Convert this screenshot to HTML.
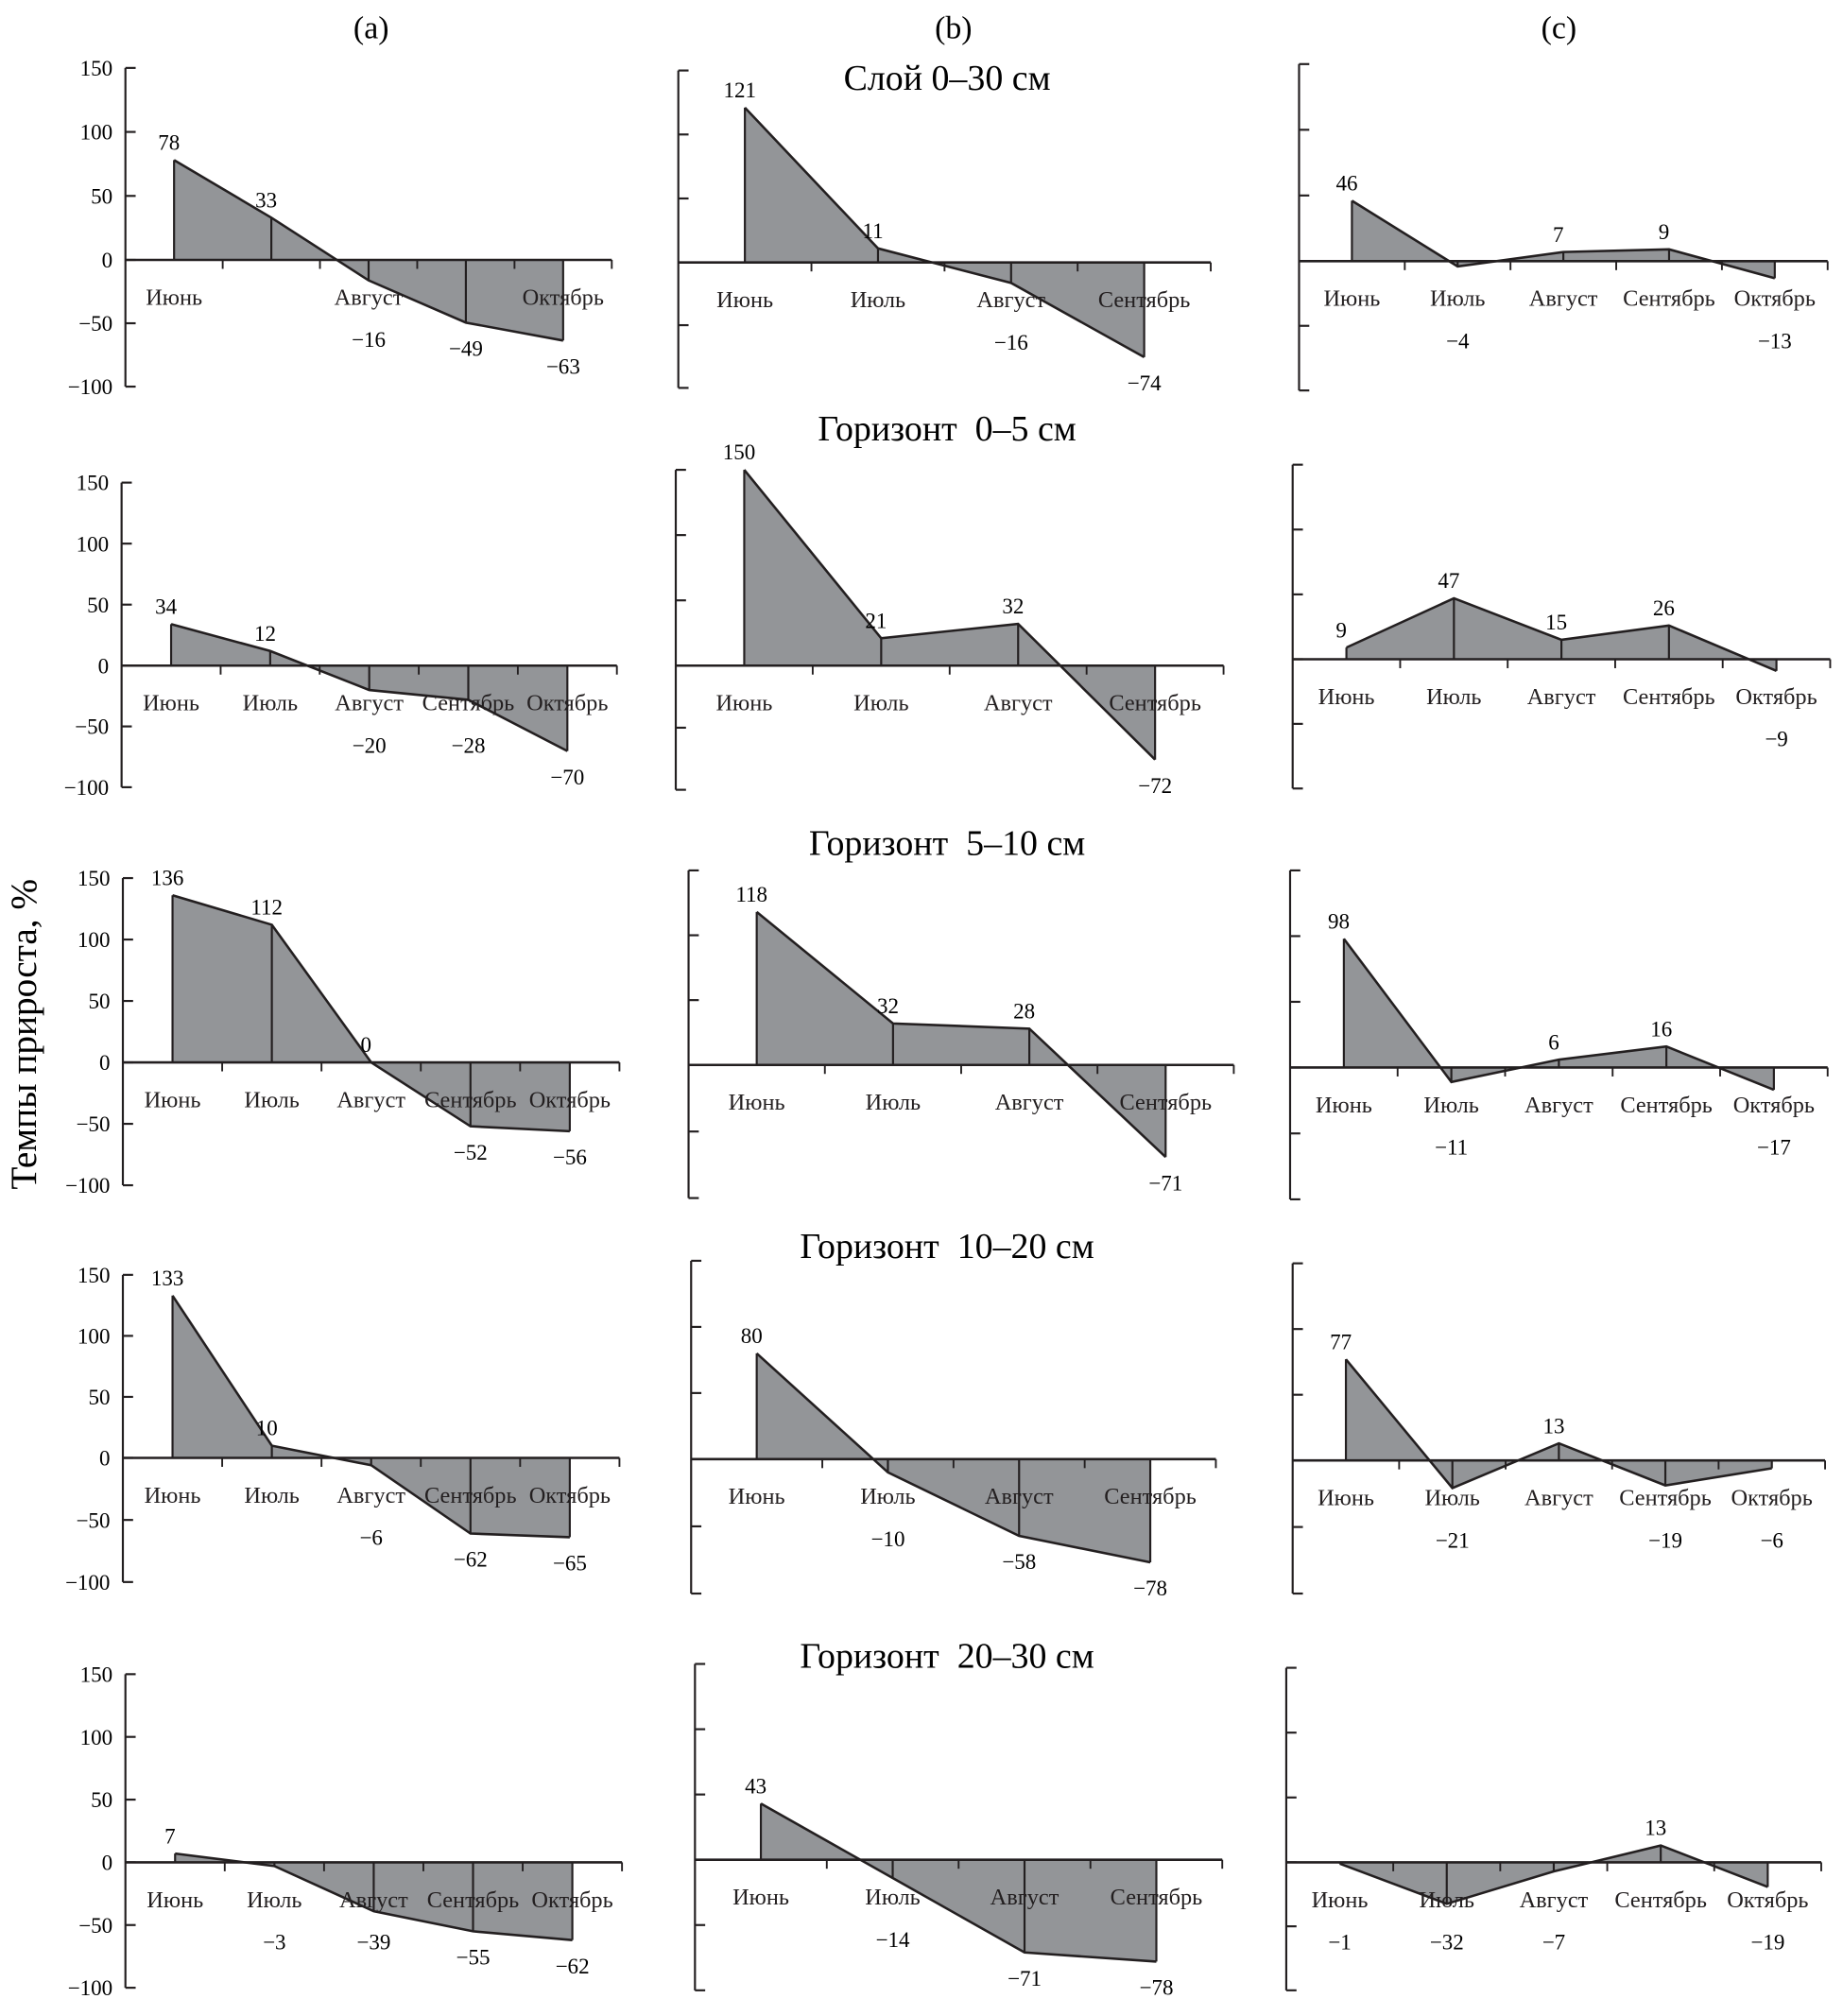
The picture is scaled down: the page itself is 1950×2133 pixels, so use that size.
<!DOCTYPE html>
<html><head><meta charset="utf-8"><style>
html,body{margin:0;padding:0;background:#fff;}
svg{display:block;font-family:"Liberation Serif","Noto Serif CJK SC",serif;}
</style></head><body>
<svg id="fig" width="1950" height="2133" viewBox="0 0 1440 1575" xmlns="http://www.w3.org/2000/svg">
<g font-size="25" text-anchor="middle">
<text x="290" y="30">(a)</text>
<text x="745" y="30">(b)</text>
<text x="1218" y="30">(c)</text>
</g>
<g font-size="28" text-anchor="middle">
<text x="740" y="70">Слой 0–30 см</text>
<text x="740" y="344" xml:space="preserve">Горизонт  0–5 см</text>
<text x="740" y="668" xml:space="preserve">Горизонт  5–10 см</text>
<text x="740" y="983" xml:space="preserve">Горизонт  10–20 см</text>
<text x="740" y="1303" xml:space="preserve">Горизонт  20–30 см</text>
</g>
<text font-size="29" text-anchor="middle" transform="translate(28,808) rotate(-90)">Темпы прироста, %</text>
<g id="panels"></g>
</svg>
<script>
const months5 = ["Июнь","Июль","Август","Сентябрь","Октябрь"];
const months4 = ["Июнь","Июль","Август","Сентябрь"];
const monthsA1 = ["Июнь","","Август","","Октябрь"];
const valsA1 = [78,33,-16,-49,-63];
const valsA2 = [34,12,-20,-28,-70];
const valsA3 = [136,112,0,-52,-56];
const valsA4 = [133,10,-6,-62,-65];
const valsA5 = [7,-3,-39,-55,-62];
const valsB1 = [121,11,-16,-74];
const valsB2 = [150,21,32,-72];
const valsB3 = [118,32,28,-71];
const valsB4 = [80,-10,-58,-78];
const valsB5 = [43,-14,-71,-78];
const valsC1 = [46,-4,7,9,-13];
const valsC2 = [9,47,15,26,-9];
const valsC3 = [98,-11,6,16,-17];
const valsC4 = [77,-21,13,-19,-6];
const valsC5 = [-1,-32,-7,13,-19];
const yTicks = [150,100,50,0,-50,-100];

const NS="http://www.w3.org/2000/svg";
const root=document.getElementById('panels');
function mk(tag,attrs,parent){const e=document.createElementNS(NS,tag);for(const k in attrs)e.setAttribute(k,attrs[k]);parent.appendChild(e);return e;}

const panels=[
 {id:'a1',x0:98,x1:478,zero:203,top:53,bot:302,labels:monthsA1,vals:valsA1,tl:true},
 {id:'a2',x0:95,x1:482,zero:520,top:377,bot:615,labels:months5,vals:valsA2,tl:true},
 {id:'a3',x0:96,x1:484,zero:830,top:686,bot:926,labels:months5,vals:valsA3,tl:true},
 {id:'a4',x0:96,x1:484,zero:1139,top:996,bot:1236,labels:months5,vals:valsA4,tl:true},
 {id:'a5',x0:98,x1:486,zero:1455,top:1308,bot:1553,labels:months5,vals:valsA5,tl:true},
 {id:'b1',x0:530,x1:946,zero:205,top:55,bot:303,labels:months4,vals:valsB1},
 {id:'b2',x0:528,x1:956,zero:520,top:367,bot:617,labels:months4,vals:valsB2},
 {id:'b3',x0:538,x1:964,zero:832,top:680,bot:936,labels:months4,vals:valsB3},
 {id:'b4',x0:540,x1:950,zero:1140,top:985,bot:1245,labels:months4,vals:valsB4},
 {id:'b5',x0:543,x1:955,zero:1453,top:1300,bot:1555,labels:months4,vals:valsB5},
 {id:'c1',x0:1015,x1:1428,zero:204,top:50,bot:305,labels:months5,vals:valsC1},
 {id:'c2',x0:1010,x1:1430,zero:515,top:363,bot:616,labels:months5,vals:valsC2},
 {id:'c3',x0:1008,x1:1428,zero:834,top:680,bot:937,labels:months5,vals:valsC3},
 {id:'c4',x0:1010,x1:1426,zero:1141,top:987,bot:1245,labels:months5,vals:valsC4},
 {id:'c5',x0:1005,x1:1423,zero:1455,top:1303,bot:1555,labels:months5,vals:valsC5},
];

panels.forEach(p=>{
 const g=mk('g',{},root);
 
 
 const n=p.labels.length, cw=(p.x1-p.x0)/n;
 const k=(p.zero-p.top)/150;
 const X=i=>p.x0+cw*(i+0.5);
 const Y=v=>p.zero-v*k;
 let d='M'+X(0)+','+p.zero;
 p.vals.forEach((v,i)=>{d+=' L'+X(i)+','+Y(v);});
 d+=' L'+X(n-1)+','+p.zero+' Z';
 const area=mk('path',{d:d,fill:'#939598',stroke:'none'},g);
 
 
 p.vals.forEach((v,i)=>{
  const l=mk('line',{x1:X(i),y1:p.zero,x2:X(i),y2:Y(v),stroke:'#231f20','stroke-width':1.6},g);
  
  
 });
 const pl=mk('polyline',{points:p.vals.map((v,i)=>X(i)+','+Y(v)).join(' '),fill:'none',stroke:'#231f20','stroke-width':1.9},g);
 
 
 const ya=mk('line',{x1:p.x0,y1:p.top,x2:p.x0,y2:p.bot,stroke:'#231f20','stroke-width':1.6},g);
 
 
 const xa=mk('line',{x1:p.x0,y1:p.zero,x2:p.x1,y2:p.zero,stroke:'#231f20','stroke-width':1.9},g);
 
 
 yTicks.forEach(t=>{
  const ty=p.zero-t*(t>=0?k:(p.bot-p.zero)/100);
  const tk=mk('line',{x1:p.x0,y1:ty,x2:p.x0+8,y2:ty,stroke:'#231f20','stroke-width':1.6},g);
  
  
  if(p.tl){
   const tt=mk('text',{x:p.x0-10,y:ty+6,'font-size':17,'text-anchor':'end'},g);
   tt.textContent=(t<0?'−'+(-t):String(t));
   
   
  }
 });
 for(let i=1;i<=n;i++){
  const tx=p.x0+cw*i;
  const tk=mk('line',{x1:tx,y1:p.zero,x2:tx,y2:p.zero+7,stroke:'#231f20','stroke-width':1.4},g);
  
  
 }
 p.labels.forEach((m,i)=>{
  if(!m)return;
  const t=mk('text',{x:X(i),y:p.zero+35,'font-size':18,'text-anchor':'middle',fill:'#231f20'},g);
  t.textContent=m;
  
  
 });
 p.vals.forEach((v,i)=>{
  const y=v>=0?Y(v)-8:Math.max(p.zero+68,Y(v)+26);
  const t=mk('text',{x:X(i)-(v>=0?4:0),y:y,'font-size':17,'text-anchor':'middle'},g);
  t.textContent=v<0?'−'+(-v):String(v);
  
  
 });
});
</script>
</body></html>
